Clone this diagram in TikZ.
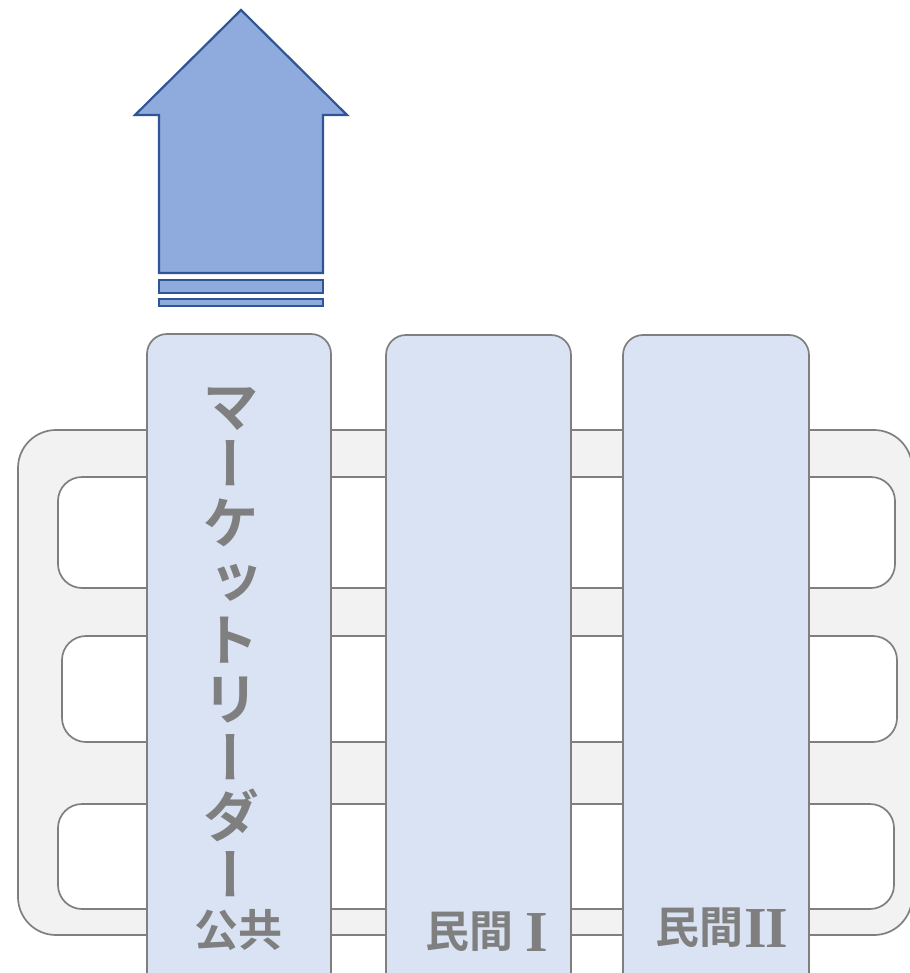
\documentclass[tikz,border=0pt]{standalone}
\usepackage{fontspec}
\newfontfamily\cjk{Noto Sans CJK JP}[BoldFont={* Bold}]
\newfontfamily\cjkv{Noto Sans CJK JP Bold}[RawFeature=+vert]
\newfontfamily\romfont{Liberation Serif}
\newcommand{\romnum}[1]{\raisebox{-3.5pt}{\romfont\bfseries\fontsize{58}{58}\selectfont #1}}
\definecolor{framefill}{HTML}{F2F2F2}
\definecolor{linegray}{HTML}{7F7F7F}
\definecolor{colfill}{HTML}{DAE3F3}
\definecolor{arrowfill}{HTML}{8FAADC}
\definecolor{arrowline}{HTML}{2F5597}
\definecolor{txtgray}{HTML}{7F7F7F}
\tikzset{
  frame/.style={draw=linegray, fill=framefill, line width=1.7pt, rounded corners=38pt},
  rowbox/.style={draw=linegray, fill=white, line width=1.7pt, rounded corners=24pt},
  colbox/.style={draw=linegray, fill=colfill, line width=1.7pt, rounded corners=20pt},
  arrowshape/.style={draw=arrowline, fill=arrowfill, line width=2.2pt, line join=miter},
  label/.style={text=txtgray, inner sep=0pt, font=\cjk\bfseries\fontsize{44}{44}\selectfont}
}
\begin{document}
\begin{tikzpicture}[x=1pt,y=-1pt]
\useasboundingbox (0,0) rectangle (909,973);
% outer frame
\draw[frame] (18,430) rectangle (912,935);
% rows
\draw[rowbox] (58,477) rectangle (895,588);
\draw[rowbox] (62,636) rectangle (897,742);
\draw[rowbox] (58,804) rectangle (894,909);
% columns
\draw[colbox] (147,334) rectangle (331,1000);
\draw[colbox] (386,335) rectangle (571,1000);
\draw[colbox] (623,335) rectangle (809,1000);
% arrow
\draw[arrowshape] (241,10) -- (347,115) -- (323,115) -- (323,273) -- (159,273) -- (159,115) -- (135,115) -- cycle;
\draw[arrowshape] (159,280) rectangle (323,293);
\draw[arrowshape] (159,299) rectangle (323,306);
% texts
\node[text=txtgray, inner sep=0pt, align=center, font=\cjkv\fontsize{57}{58.7}\selectfont] (mk) at (231,642) {マ\\ー\\ケ\\ッ\\ト\\リ\\ー\\ダ\\ー};
\node[label] (pub) at (238,930) {公共};
\node[label, anchor=west] (pv1) at (425,932) {民間\hspace{12pt}\romnum{I}};
\node[label, anchor=west] (pv2) at (655,928) {民間\hspace{1pt}\romnum{I\hspace{-1.5pt}I}};
\end{tikzpicture}
\end{document}
